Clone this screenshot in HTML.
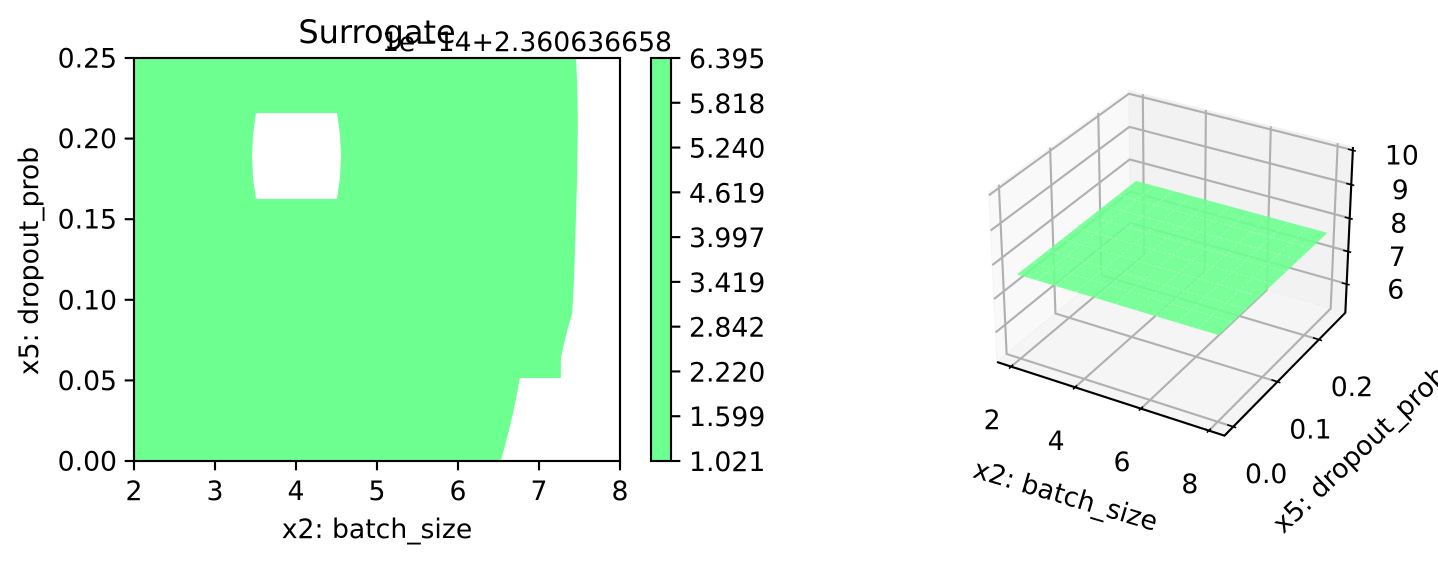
<!DOCTYPE html>
<html>
<head>
<meta charset="utf-8">
<title>Surrogate</title>
<style>
html,body{margin:0;padding:0;background:#fff;width:1438px;height:562px;overflow:hidden}
svg{display:block}
text{font-family:"DejaVu Sans","Liberation Sans",sans-serif;font-size:26.67px;fill:#000}
</style>
</head>
<body>
<svg id="chart" xmlns="http://www.w3.org/2000/svg" width="1438" height="562" viewBox="0 0 1438 562">
  <g id="contour-layer"></g>
  <g id="colorbar-layer"></g>
  <g id="surface-layer"></g>
  <text x="377" y="43" text-anchor="middle" style="font-size:32px">Surrogate</text>
  <text x="672" y="51" text-anchor="end">1e−14+2.360636658</text>
  <text x="377" y="538" text-anchor="middle">x2: batch_size</text>
  <text transform="translate(38,261) rotate(-90)" text-anchor="middle">x5: dropout_prob</text>
  <text transform="translate(1063,504) rotate(16.5)" text-anchor="middle">x2: batch_size</text>
  <text transform="translate(1366,456) rotate(-43.5)" text-anchor="middle">x5: dropout_prob</text>
</svg>
<script>
// ---- contour panel data ----
const xTicks = [2, 3, 4, 5, 6, 7, 8];
const yTicks = [0, 0.05, 0.10, 0.15, 0.20, 0.25];
const yTickLabels = ["0.00", "0.05", "0.10", "0.15", "0.20", "0.25"];
const regionX = [2, 2, 7.457, 7.47, 7.48, 7.47, 7.444, 7.432, 7.41, 7.36, 7.31, 7.27, 7.27, 6.765, 6.73, 6.68, 6.62, 6.53];
const regionY = [0, 0.25, 0.25, 0.236, 0.2115, 0.174, 0.131, 0.1123, 0.0918, 0.0831, 0.0732, 0.0639, 0.0515, 0.0515, 0.0422, 0.0298, 0.0174, 0];
const holeX = [3.506, 4.506, 4.543, 4.556, 4.543, 4.506, 3.506, 3.469, 3.457, 3.469];
const holeY = [0.2159, 0.2159, 0.2022, 0.1892, 0.1756, 0.1625, 0.1625, 0.1756, 0.1892, 0.2022];
// ---- colorbar data ----
const colorbarLabels = ["1.021", "1.599", "2.220", "2.842", "3.419", "3.997", "4.619", "5.240", "5.818", "6.395"];
// ---- 3D panel data ----
const xLim3d = [1.55, 8.45];
const yLim3d = [-0.019, 0.267];
const zLim3d = [5.1, 10.09];
const xTicks3d = [2, 4, 6, 8];
const yTicks3d = [0.0, 0.1, 0.2];
const yTickLabels3d = ["0.0", "0.1", "0.2"];
const zTicks3d = [6, 7, 8, 9, 10];
const surfaceX = [2, 8];
const surfaceY = [0, 0.25];
const surfaceZ = [[7.63, 7.63], [7.63, 7.63]];
const seamX = [2.6, 3.2, 3.8, 4.4, 5, 5.6, 6.2, 6.8, 7.4];
const seamY = [0.03, 0.06, 0.09, 0.12, 0.15, 0.18, 0.21];

const NS = "http://www.w3.org/2000/svg";
const GREEN = "#6dff90";
function mk(parent, tag, attrs, text) {
  const el = document.createElementNS(NS, tag);
  for (const k in attrs) el.setAttribute(k, attrs[k]);
  if (text !== undefined) el.textContent = text;
  parent.appendChild(el);
  return el;
}
const LW = 2.13;
const TL = 9.33;

// ---------- contour panel ----------
const contour = document.getElementById("contour-layer");
const AX = {l: 134, r: 620, t: 58, b: 461};
const sx = v => AX.l + (v - 2) / 6 * (AX.r - AX.l);
const sy = v => AX.b - v / 0.25 * (AX.b - AX.t);
function ringPath(xs, ys) {
  return xs.map((x, i) => (i ? "L" : "M") + sx(x).toFixed(2) + " " + sy(ys[i]).toFixed(2)).join("") + "Z";
}
const region = mk(contour, "path", {d: ringPath(regionX, regionY) + ringPath(holeX, holeY), fill: GREEN, "fill-rule": "evenodd"});


const frame = mk(contour, "rect", {x: AX.l, y: AX.t, width: AX.r - AX.l, height: AX.b - AX.t, fill: "none", stroke: "#000", "stroke-width": LW});


xTicks.forEach(v => {
  const t = mk(contour, "line", {x1: sx(v), x2: sx(v), y1: AX.b, y2: AX.b + TL, stroke: "#000", "stroke-width": LW});
  
  
  const l = mk(contour, "text", {x: sx(v), y: 500, "text-anchor": "middle"}, String(v));
  
  
});
yTicks.forEach((v, i) => {
  const t = mk(contour, "line", {x1: AX.l - TL, x2: AX.l, y1: sy(v), y2: sy(v), stroke: "#000", "stroke-width": LW});
  
  
  const l = mk(contour, "text", {x: AX.l - 17, y: sy(v) + 9.5, "text-anchor": "end"}, yTickLabels[i]);
  
  
});

// ---------- colorbar ----------
const cbar = document.getElementById("colorbar-layer");
const CB = {l: 651, r: 671, t: 58, b: 461};
const cbY = i => CB.b - i / (colorbarLabels.length - 1) * (CB.b - CB.t);
const cbBody = mk(cbar, "rect", {x: CB.l, y: CB.t, width: CB.r - CB.l, height: CB.b - CB.t, fill: GREEN, stroke: "#000", "stroke-width": LW});


colorbarLabels.forEach((s, i) => {
  const t = mk(cbar, "line", {x1: CB.r, x2: CB.r + TL, y1: cbY(i), y2: cbY(i), stroke: "#000", "stroke-width": LW});
  
  
  const l = mk(cbar, "text", {x: CB.r + 18, y: cbY(i) + 10, "text-anchor": "start"}, s);
  
  
});

// ---------- 3D projection (elev 30, azim -60, dist 10) ----------
const surf3d = document.getElementById("surface-layer");
const el = 30 * Math.PI / 180, az = -60 * Math.PI / 180;
const bs = 1.8294640721620434 * 25 / 24 / Math.sqrt(41);
const B = [4 * bs, 4 * bs, 3 * bs];
const N = [Math.cos(el) * Math.cos(az), Math.cos(el) * Math.sin(az), Math.sin(el)];
const EYE = [B[0] / 2 + 10 * N[0], B[1] / 2 + 10 * N[1], B[2] / 2 + 10 * N[2]];
const ul = Math.hypot(N[1], N[0]);
const U = [-N[1] / ul, N[0] / ul, 0];
const W = [N[1] * U[2] - N[2] * U[1], N[2] * U[0] - N[0] * U[2], N[0] * U[1] - N[1] * U[0]];
function rawProj(x, y, z) {
  const p = [(x - xLim3d[0]) / (xLim3d[1] - xLim3d[0]) * B[0] - EYE[0],
             (y - yLim3d[0]) / (yLim3d[1] - yLim3d[0]) * B[1] - EYE[1],
             (z - zLim3d[0]) / (zLim3d[1] - zLim3d[0]) * B[2] - EYE[2]];
  const d = -(p[0] * N[0] + p[1] * N[1] + p[2] * N[2]);
  return [(p[0] * U[0] + p[1] * U[1] + p[2] * U[2]) / d, (p[0] * W[0] + p[1] * W[1] + p[2] * W[2]) / d];
}
const a0 = rawProj(xLim3d[0], yLim3d[0], zLim3d[0]);
const a1 = rawProj(xLim3d[1], yLim3d[1], zLim3d[1]);
const PA = {x0: 997, y0: 362, x1: 1353, y1: 147};
const kx = (PA.x1 - PA.x0) / (a1[0] - a0[0]);
const ky = (PA.y1 - PA.y0) / (a1[1] - a0[1]);
function P(x, y, z) {
  const r = rawProj(x, y, z);
  return [PA.x0 + (r[0] - a0[0]) * kx, PA.y0 + (r[1] - a0[1]) * ky];
}
const pts = arr => arr.map(q => q[0].toFixed(2) + "," + q[1].toFixed(2)).join(" ");
const [xa, xb] = xLim3d, [ya, yb] = yLim3d, [za, zb] = zLim3d;

const paneX = mk(surf3d, "polygon", {points: pts([P(xa, ya, za), P(xa, yb, za), P(xa, yb, zb), P(xa, ya, zb)]), fill: "#f9f9f9", stroke: "#f4f4f4", "stroke-width": 1});


const paneY = mk(surf3d, "polygon", {points: pts([P(xa, yb, za), P(xb, yb, za), P(xb, yb, zb), P(xa, yb, zb)]), fill: "#f2f2f2", stroke: "#eeeeee", "stroke-width": 1});


const paneZ = mk(surf3d, "polygon", {points: pts([P(xa, ya, za), P(xb, ya, za), P(xb, yb, za), P(xa, yb, za)]), fill: "#f5f5f5", stroke: "#f0f0f0", "stroke-width": 1});



const gridAttrs = {fill: "none", stroke: "#b0b0b0", "stroke-width": LW};
xTicks3d.forEach(v => {
  const g = mk(surf3d, "polyline", Object.assign({points: pts([P(v, ya, za), P(v, yb, za), P(v, yb, zb)])}, gridAttrs));
  
  
});
yTicks3d.forEach(v => {
  const g = mk(surf3d, "polyline", Object.assign({points: pts([P(xb, v, za), P(xa, v, za), P(xa, v, zb)])}, gridAttrs));
  
  
});
zTicks3d.forEach(v => {
  const g = mk(surf3d, "polyline", Object.assign({points: pts([P(xa, ya, v), P(xa, yb, v), P(xb, yb, v)])}, gridAttrs));
  
  
});

// surface
const surfacePoly = mk(surf3d, "polygon", {
  points: pts([
    P(surfaceX[0], surfaceY[0], surfaceZ[0][0]),
    P(surfaceX[1], surfaceY[0], surfaceZ[0][1]),
    P(surfaceX[1], surfaceY[1], surfaceZ[1][1]),
    P(surfaceX[0], surfaceY[1], surfaceZ[1][0])
  ]),
  fill: "#6dff90", "fill-opacity": 0.9
});


const seamAttrs = {stroke: "#ffffff", "stroke-opacity": 0.25, "stroke-width": 1, "stroke-dasharray": "3 2"};
const zAt = surfaceZ[0][0];
seamX.forEach(v => {
  const a = P(v, surfaceY[0], zAt), b = P(v, surfaceY[1], zAt);
  const s = mk(surf3d, "line", Object.assign({x1: a[0], y1: a[1], x2: b[0], y2: b[1]}, seamAttrs));
  
  
});
seamY.forEach(v => {
  const a = P(surfaceX[0], v, zAt), b = P(surfaceX[1], v, zAt);
  const s = mk(surf3d, "line", Object.assign({x1: a[0], y1: a[1], x2: b[0], y2: b[1]}, seamAttrs));
  
  
});

// axis spines
const spine = {fill: "none", stroke: "#000", "stroke-width": LW};
const spineLine = mk(surf3d, "polyline", Object.assign({points: pts([P(xa, ya, za), P(xb, ya, za), P(xb, yb, za), P(xb, yb, zb)])}, spine));



function tick3d(q, d1, d2, name) {
  const t = mk(surf3d, "line", {x1: q[0] + d1[0], y1: q[1] + d1[1], x2: q[0] + d2[0], y2: q[1] + d2[1], stroke: "#000", "stroke-width": 1.6});
  
  
}
function label3d(q, off, s, name) {
  const l = mk(surf3d, "text", {x: q[0] + off[0], y: q[1] + off[1] + 9.5, "text-anchor": "middle"}, s);
  
  
}
xTicks3d.forEach(v => {
  const q = P(v, ya, za);
  tick3d(q, [2, -2], [-2, 2], 'x-tick-3d');
  label3d(q, [-19, 53], String(v), 'x-tick-label-3d');
});
yTicks3d.forEach((v, i) => {
  const q = P(xb, v, za);
  tick3d(q, [-6, -2], [3, 1], 'y-tick-3d');
  label3d(q, [33, 47], yTickLabels3d[i], 'y-tick-label-3d');
});
zTicks3d.forEach(v => {
  const q = P(xb, yb, v);
  tick3d(q, [-5, -1], [3, 1], 'z-tick-3d');
  label3d(q, [49, 5], String(v), 'z-tick-label-3d');
});
</script>
</body>
</html>
